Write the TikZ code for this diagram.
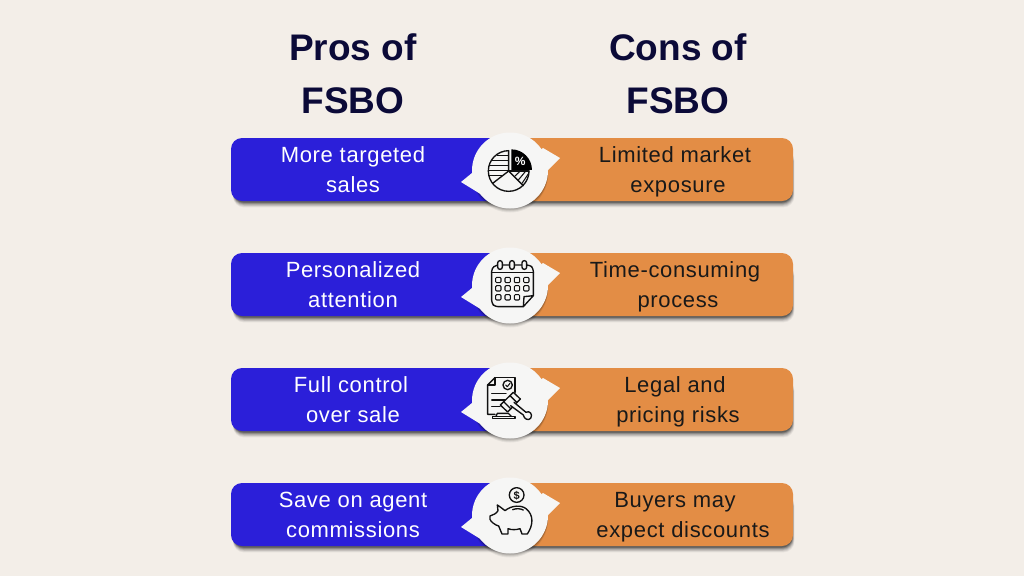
\documentclass[tikz,border=0pt]{standalone}
\usepackage{fontspec}
\setmainfont{Liberation Sans}
\newfontfamily\bodyfont[LetterSpace=3]{Liberation Sans}
\usetikzlibrary{calc}
\definecolor{bgc}{HTML}{F3EEE8}
\definecolor{bluec}{HTML}{2B1FD9}
\definecolor{orangec}{HTML}{E38D45}
\definecolor{navyc}{HTML}{0B0A38}
\definecolor{bubblec}{HTML}{F6F6F5}
\definecolor{inkc}{HTML}{111111}
\tikzset{
  headtext/.style={font=\fontsize{37}{37}\selectfont\bfseries, text=navyc, anchor=base, inner sep=0pt},
  prostext/.style={font=\fontsize{22}{22}\selectfont\bodyfont, text=white, anchor=base, inner sep=0pt},
  constext/.style={font=\fontsize{22}{22}\selectfont\bodyfont, text=black!90, anchor=base, inner sep=0pt},
  ink/.style={draw=inkc, line width=1.35pt, line join=round, line cap=round},
  thinink/.style={draw=inkc, line width=1.05pt, line join=round, line cap=round},
}
% bar pair and speech bubble; #1 = top of the bar
\newcommand{\barpair}[1]{%
  \begin{scope}[yshift=-#1 pt]
    \foreach \d/\o in {8/0.05,7/0.06,6/0.08,5/0.10,4/0.14,3/0.18,2/0.22}{
      \fill[black,opacity=\o,rounded corners=11pt] (233,12) rectangle ({792+\d*0.3},{63+\d*0.8});
    }
    \fill[bluec,rounded corners=11pt] (231,0) -- (520,0) -- (520,63) -- (231,63) -- cycle;
    \fill[orangec,rounded corners=11pt] (500,0) -- (793,0) -- (793,63) -- (500,63) -- cycle;
    \foreach \d/\o in {4/0.06,3/0.08,2/0.10,1/0.12}{
      \fill[black,opacity=\o] (510,{32.5+\d}) circle[radius=38];
    }
    \fill[bubblec] (510,32.5) circle[radius=38];
    \fill[bubblec] (472,35) -- (461,44) -- (487,60) -- (505,40) -- cycle;
    \fill[bubblec] (543,10) -- (560,20) -- (548,32) -- (515,30) -- cycle;
  \end{scope}%
}
\begin{document}
\begin{tikzpicture}[x=1pt,y=-1pt]
\useasboundingbox (0,0) rectangle (1024,576);
\fill[bgc] (0,0) rectangle (1024,576);

\node[headtext] (prosA) at (353,60) {Pros of};
\node[headtext] (prosB) at (353,113) {FSBO};
\node[headtext] (consA) at (678,60) {Cons of};
\node[headtext] (consB) at (678,113) {FSBO};

\barpair{138}\barpair{253}\barpair{368}\barpair{483}

% row texts
\node[prostext] (p1a) at (353,162) {More targeted};
\node[prostext] (p1b) at (353,192) {sales};
\node[constext] (c1a) at (675,162) {Limited market};
\node[constext] (c1b) at (678,192) {exposure};
\node[prostext] (p2a) at (353,277) {Personalized};
\node[prostext] (p2b) at (353,307) {attention};
\node[constext] (c2a) at (675,277) {Time-consuming};
\node[constext] (c2b) at (678,307) {process};
\node[prostext] (p3a) at (351,392) {Full control};
\node[prostext] (p3b) at (353,422) {over sale};
\node[constext] (c3a) at (675,392) {Legal and};
\node[constext] (c3b) at (678,422) {pricing risks};
\node[prostext] (p4a) at (353,507) {Save on agent};
\node[prostext] (p4b) at (353,537) {commissions};
\node[constext] (c4a) at (675,507) {Buyers may};
\node[constext] (c4b) at (683,537) {expect discounts};

% pie icon (coordinates in zoom units: 1/3 px, origin 440,120)
\begin{scope}[shift={(440,120)},x=0.3333pt,y=-0.3333pt]
  \fill[black] (214,88) arc[start angle=-90,end angle=0,radius=62] -- (214,150) -- cycle;
  \node[font=\fontsize{12}{12}\selectfont\bfseries,text=white,inner sep=0pt] (pct) at (241,125) {\%};
  \draw[ink] (206,92) arc[start angle=-90,end angle=-360,radius=61];
  \draw[ink] (206,92) -- (206,153) -- (158,190);
  \draw[ink] (206,153) -- (250,197);
  \draw[ink] (206,153) -- (267,153);
  \foreach \yy/\xa/\xb in {107/172/204,122/155/204,137/148/204,152/146/204,167/148/186}{
    \draw[thinink] (\xa,\yy) -- (\xb,\yy);
  }
  \draw[thinink] (225,168) -- (238,156);
  \draw[thinink] (235,180) -- (255,156);
  \draw[thinink] (246,190) -- (266,160);
\end{scope}

% calendar icon (origin 440,240)
\begin{scope}[shift={(440,240)},x=0.3333pt,y=-0.3333pt]
  \draw[ink,rounded corners=3pt] (250,200) -- (165,200) -- (155,190) -- (155,85) -- (168,75) -- (270,75) -- (280,85) -- (280,167);
  \draw[ink] (280,167) -- (250,200) -- (252,170) -- (280,167);
  \draw[ink] (155,97) -- (280,97);
  \foreach \cx in {180,216,253}{
    \draw[ink,fill=bubblec,rounded corners=2.2pt] (\cx-7,62) rectangle (\cx+7,88);
  }
  \foreach \cx in {175,203,231,259}{
    \foreach \cy in {120,145}{
      \draw[thinink,rounded corners=1pt] (\cx-8,\cy-8) rectangle (\cx+8,\cy+8);
    }
  }
  \foreach \cx in {175,203,231}{
    \draw[thinink,rounded corners=1pt] (\cx-8,172-8) rectangle (\cx+8,172+8);
  }
\end{scope}

% gavel icon (origin 440,355)
\begin{scope}[shift={(440,355)},x=0.3333pt,y=-0.3333pt]
  \draw[ink] (165,68) -- (225,68) -- (225,112);
  \draw[ink] (165,68) -- (143,90) -- (143,178) -- (165,178);
  \draw[ink] (165,68) -- (165,90) -- (143,90);
  \draw[ink] (203,90) circle[radius=14];
  \draw[thinink] (197,90) -- (202,95) -- (210,85);
  \foreach \yy/\xb in {115/198,135/198,155/180}{
    \draw[thinink] (155,\yy) -- (\xb,\yy);
  }
  \draw[ink,fill=bubblec] (181,150) -- (220,112) -- (241,132) -- (203,171) -- cycle;
  \draw[ink] (191,140) -- (212,161);
  \draw[ink] (210,122) -- (231,143);
  \draw[ink,fill=bubblec] (222,142) -- (258,172) .. controls (268,165) and (280,178) .. (272,190) .. controls (265,198) and (252,192) .. (250,180) -- (212,152);
  \draw[ink] (158,190) -- (225,190) -- (225,184) -- (158,184) -- cycle;
  \draw[ink] (168,184) -- (172,175) -- (205,175) -- (214,184);
\end{scope}

% piggy bank icon (origin 440,470)
\begin{scope}[shift={(440,470)},x=0.3333pt,y=-0.3333pt]
  \draw[ink] (230,75) circle[radius=22];
  \node[font=\fontsize{11}{11}\selectfont\bfseries,text=inkc,inner sep=0pt] (dollar) at (230,76) {\$};
  \draw[ink] (172,105) .. controls (180,110) and (190,118) .. (195,122)
    .. controls (215,105) and (245,105) .. (258,116)
    .. controls (282,135) and (280,165) .. (262,192)
    -- (246,192) -- (240,176)
    .. controls (228,180) and (215,180) .. (204,176)
    -- (204,192) -- (186,192) -- (176,168)
    .. controls (165,165) and (152,155) .. (150,148)
    -- (150,138) .. controls (160,135) and (170,130) .. (174,122) -- cycle;
  \draw[ink] (218,119) .. controls (228,115) and (240,115) .. (250,120);
\end{scope}
\end{tikzpicture}
\end{document}
